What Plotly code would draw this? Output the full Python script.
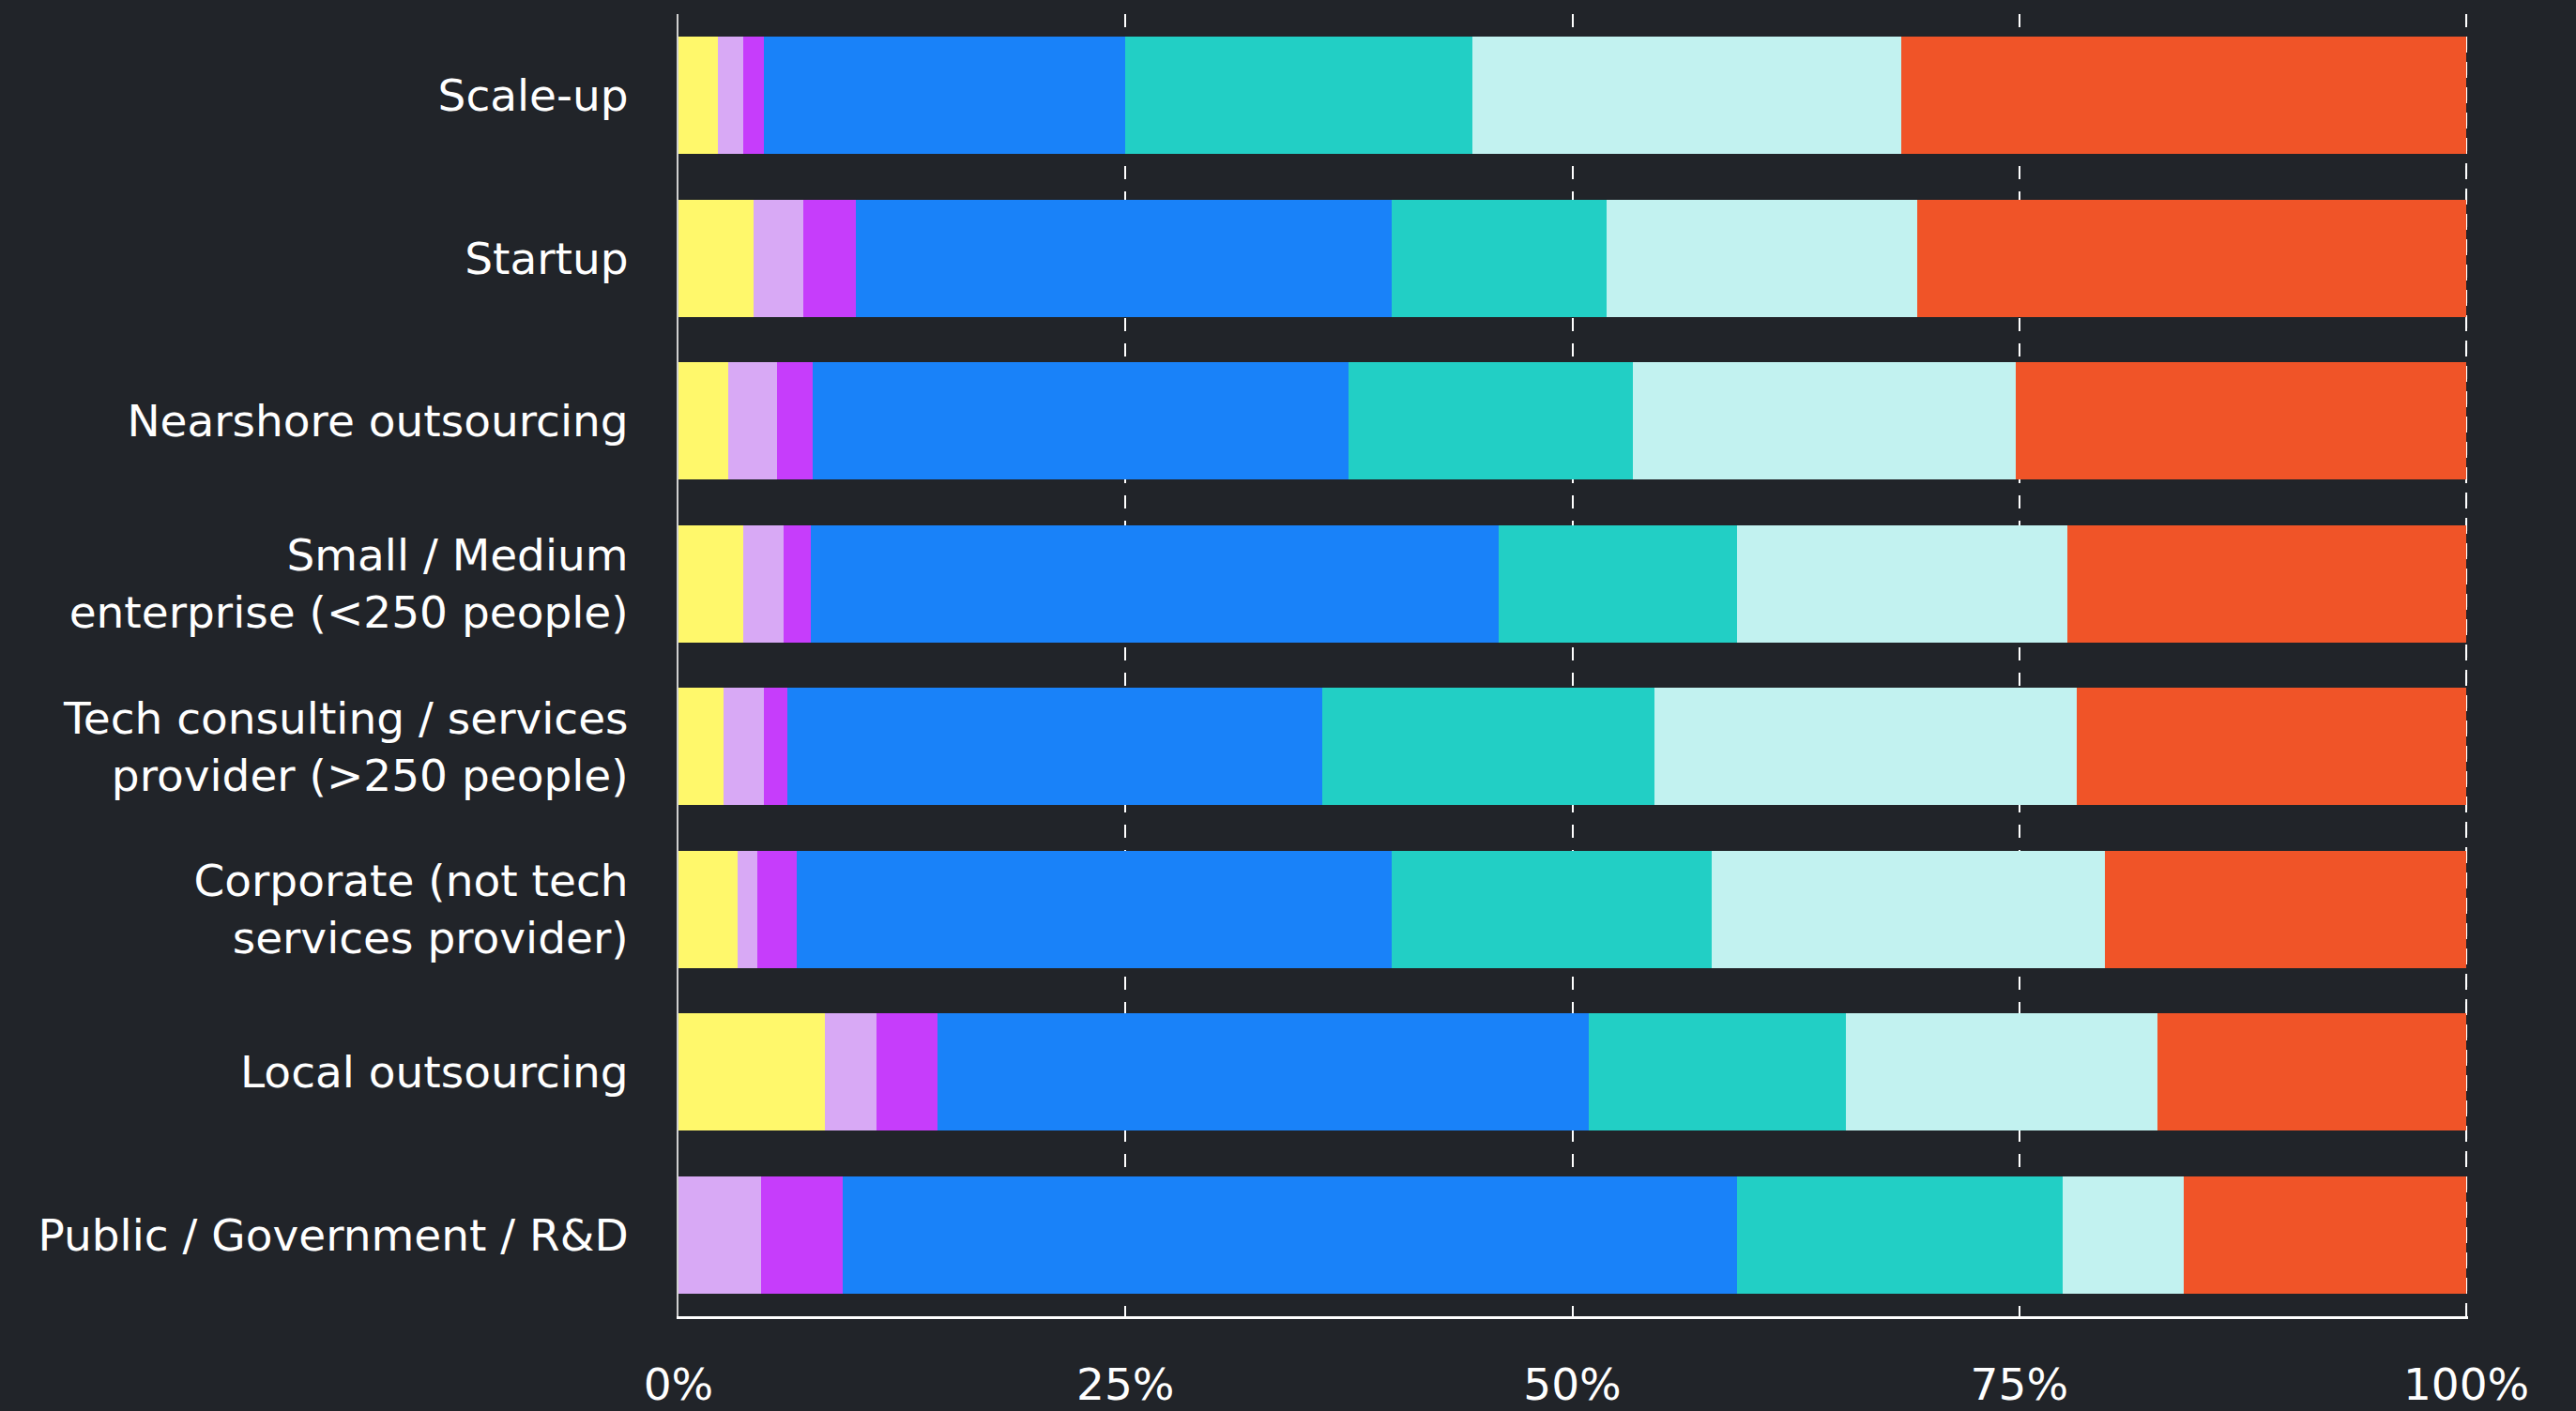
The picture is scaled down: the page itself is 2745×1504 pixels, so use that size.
"""Stacked 100% horizontal bar chart by company type."""

import plotly.graph_objects as go

categories = [
    "Scale-up",
    "Startup",
    "Nearshore outsourcing",
    "Small / Medium<br>enterprise (<250 people)",
    "Tech consulting / services<br>provider (>250 people)",
    "Corporate (not tech<br>services provider)",
    "Local outsourcing",
    "Public / Government / R&D",
]

# share of answers per category (%), left to right
seg_1 = [2.2, 4.2, 2.8, 3.6, 2.5, 3.3, 8.2, 0.0]
seg_2 = [1.4, 2.8, 2.7, 2.3, 2.3, 1.1, 2.9, 4.6]
seg_3 = [1.2, 2.9, 2.0, 1.5, 1.3, 2.2, 3.4, 4.6]
seg_4 = [20.2, 30.0, 30.0, 38.5, 29.9, 33.3, 36.4, 50.0]
seg_5 = [19.4, 12.0, 15.9, 13.3, 18.6, 17.9, 14.4, 18.2]
seg_6 = [24.0, 17.4, 21.4, 18.5, 23.6, 22.0, 17.4, 6.8]
seg_7 = [31.6, 30.7, 25.2, 22.3, 21.8, 20.2, 17.3, 15.8]

x_ticks = [0, 25, 50, 75, 100]
x_tick_labels = ["0%", "25%", "50%", "75%", "100%"]

series = [seg_1, seg_2, seg_3, seg_4, seg_5, seg_6, seg_7]
colors = ["#fff86b", "#d8a9f5", "#c63dfb", "#1982f9", "#22cfc5", "#c2f2f0", "#f05428"]

BG = "#212429"
FONT = "DejaVu Sans"
GRID_DASH = "14px,13px"

fig = go.Figure()
for i, (vals, col) in enumerate(zip(series, colors)):
    fig.add_trace(go.Bar(
        x=vals, y=categories,
        orientation="h", name=f"Answer {i + 1}",
        marker=dict(color=col, line=dict(width=0)),
    ))

# the 100% grid line sits on the plot edge; plotly drops it there, so draw it
fig.add_vline(x=x_ticks[-1], line_color="#ffffff", line_width=2,
              line_dash=GRID_DASH, layer="below")

fig.update_layout(
    barmode="stack",
    bargap=0.28,
    showlegend=False,
    width=2745, height=1504,
    paper_bgcolor=BG, plot_bgcolor=BG,
    margin=dict(l=723, r=115, t=15, b=101),
    font=dict(family=FONT, color="#ffffff", size=47),
)
fig.update_xaxes(
    range=[0, 100.1],
    tickvals=x_ticks, ticktext=x_tick_labels,
    showgrid=True, gridcolor="#ffffff", gridwidth=2,
    griddash=GRID_DASH,
    showline=True, linecolor="#ffffff", linewidth=3,
    zeroline=False, automargin=False,
    ticks="", ticklabelstandoff=30,
)
fig.update_yaxes(
    autorange="reversed",
    showgrid=False, automargin=False,
    showline=True, linecolor="#d0d0d0", linewidth=2,
    ticks="", ticklabelstandoff=42,
)

# drop the default page margin so the figure sits flush in the window
fig.write_html(
    "out.html",
    config={"displayModeBar": False},
    post_script=f"document.body.style.margin='0';document.body.style.background='{BG}';",
)
